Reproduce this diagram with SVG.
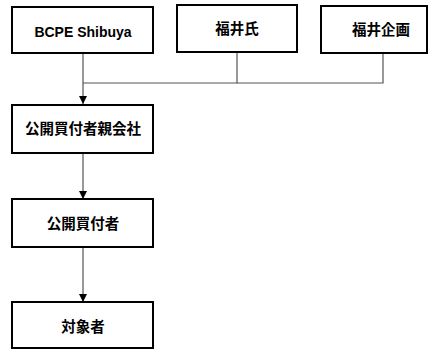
<svg xmlns="http://www.w3.org/2000/svg" width="428" height="349" viewBox="0 0 428 349">
<style>
.box{fill:#fff;stroke:#000;stroke-width:2}
.lbl{font-family:"Liberation Sans","Noto Sans CJK JP",sans-serif;font-size:14.5px;font-weight:bold;fill:#000;text-anchor:middle;dominant-baseline:central}
.en{font-size:14px}
.ln{fill:none;stroke:#555;stroke-width:1.2}
</style>
<defs>
<marker id="ah" markerWidth="8" markerHeight="8" refX="8" refY="4" orient="auto" markerUnits="userSpaceOnUse">
<path d="M0,0 L8,4 L0,8 Z" fill="#000"/>
</marker>
</defs>
<rect width="428" height="349" fill="#fff"/>
<g id="connectors">
<polyline class="ln" points="237,52 237,83 83,83"/>
<polyline class="ln" points="383,53 383,83 237,83"/>
<line class="ln" x1="83" y1="53" x2="83" y2="104" marker-end="url(#ah)"/>
<line class="ln" x1="83" y1="153" x2="83" y2="199" marker-end="url(#ah)"/>
<line class="ln" x1="83" y1="247" x2="83" y2="302" marker-end="url(#ah)"/>
</g>
<g id="bcpe"><rect class="box" x="12" y="7" width="141" height="46"/><text class="lbl en" x="83" y="32">BCPE Shibuya</text></g>
<g id="fukui"><rect class="box" x="177" y="5" width="120" height="47"/><text class="lbl" x="237" y="29">福井氏</text></g>
<g id="fukuikikaku"><rect class="box" x="321" y="6" width="106" height="47"/><text class="lbl" x="381" y="30">福井企画</text></g>
<g id="parent"><rect class="box" x="12" y="105" width="141" height="48"/><text class="lbl" x="83" y="129">公開買付者親会社</text></g>
<g id="offeror"><rect class="box" x="12" y="199" width="141" height="48"/><text class="lbl" x="83" y="224">公開買付者</text></g>
<g id="target"><rect class="box" x="12" y="302" width="141" height="46"/><text class="lbl" x="83" y="327">対象者</text></g>
</svg>
